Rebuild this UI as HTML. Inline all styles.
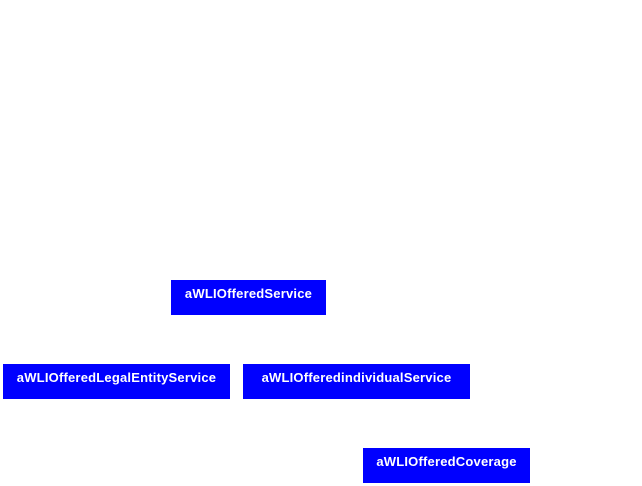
<!DOCTYPE html>
<html><head><meta charset="utf-8"><style>
html,body{margin:0;padding:0;background:#fff;width:642px;height:486px;overflow:hidden;position:relative}
.b{position:absolute;background:#0000ff;color:#fff;font-family:"Liberation Sans",sans-serif;font-weight:bold;font-size:13px;letter-spacing:0.2px;line-height:14px;text-align:center;height:35px;box-sizing:border-box;padding-top:7px;white-space:nowrap}
</style></head><body>
<div class="b" style="left:171px;top:280px;width:155px">aWLIOfferedService</div>
<div class="b" style="left:3px;top:364px;width:227px">aWLIOfferedLegalEntityService</div>
<div class="b" style="left:243px;top:364px;width:227px">aWLIOfferedindividualService</div>
<div class="b" style="left:363px;top:448px;width:167px">aWLIOfferedCoverage</div>
</body></html>
